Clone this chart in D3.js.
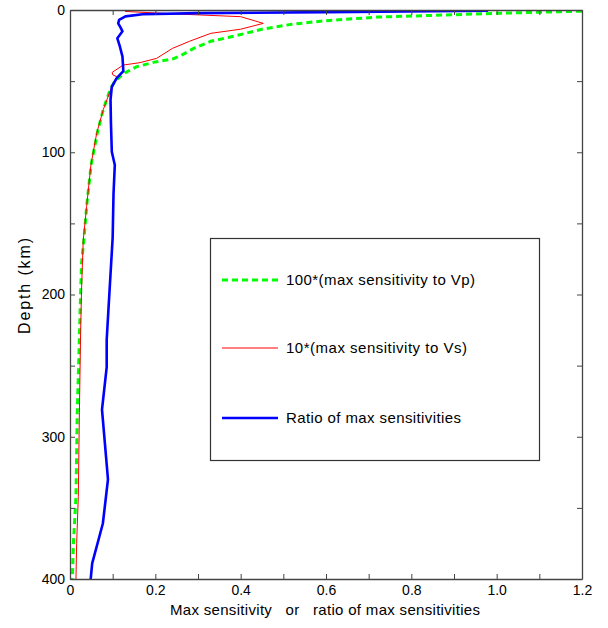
<!DOCTYPE html>
<html>
<head>
<meta charset="utf-8">
<script src="https://cdn.jsdelivr.net/npm/d3@7"></script>
<style>
  body { margin: 0; background: #fff; }
  svg text { font-family: "Liberation Sans", Arial, sans-serif; fill: #000; }
</style>
</head>
<body>
<svg id="chart" width="608" height="628"></svg>
<script>
// x values (sensitivity / ratio) and depth (km)
const vpValue = [1.2, 1.0, 0.88, 0.72, 0.6, 0.52, 0.45, 0.39, 0.33, 0.29, 0.26, 0.24, 0.2, 0.155, 0.13, 0.105, 0.094, 0.078, 0.065, 0.05, 0.04, 0.033, 0.027, 0.024, 0.022, 0.017, 0.014, 0.008, 0.0055];
const vpDepth = [0.8, 2.3, 3.5, 5, 7.5, 10, 13.5, 18, 22, 27, 32, 34.5, 36.5, 40, 44, 50, 56, 70, 85, 108, 135, 160, 178, 208, 230, 283, 342, 375, 400];

const vsValue = [0.129, 0.25, 0.40, 0.453, 0.40, 0.33, 0.28, 0.24, 0.203, 0.164, 0.125, 0.099, 0.1, 0.11, 0.1, 0.094, 0.078, 0.0625, 0.049, 0.039, 0.031, 0.027, 0.025, 0.022, 0.0195, 0.0156, 0.014];
const vsDepth = [1.0, 2.8, 4.7, 9.4, 13.5, 16.4, 22, 27, 34, 37, 38.7, 43.8, 45.5, 47, 52, 57, 70, 86.7, 109, 138, 162, 197, 225, 283, 342, 375, 400];

const ratioValue = [0.98, 0.6, 0.3, 0.17, 0.13, 0.115, 0.113, 0.118, 0.123, 0.111, 0.117, 0.123, 0.125, 0.109, 0.098, 0.095, 0.096, 0.098, 0.105, 0.102, 0.100, 0.090, 0.086, 0.086, 0.075, 0.089, 0.077, 0.052, 0.0485];
const ratioDepth = [0.5, 1.5, 2.2, 3, 4.5, 7, 9.4, 12, 15, 19.9, 25.8, 32.8, 43, 48, 54, 63, 80, 99.6, 109, 129, 160, 211, 232, 251, 281, 330, 361, 389, 400];

const xTicks = [0, 0.1, 0.2, 0.3, 0.4, 0.5, 0.6, 0.7, 0.8, 0.9, 1.0, 1.1, 1.2];
const yTicks = [0, 50, 100, 150, 200, 250, 300, 350, 400];

const legendLabels = ['100*(max sensitivity to Vp)', '10*(max sensitivity to Vs)', 'Ratio of max sensitivities'];

// layout
const plotLeft = 70, plotRight = 582, plotTop = 10, plotBottom = 579;
const svg = d3.select('#chart');

const xScale = d3.scaleLinear().domain([0, 1.2]).range([plotLeft, plotRight]);
const yScale = d3.scaleLinear().domain([0, 400]).range([plotTop, plotBottom]);

const fmtX = (v) => {
    let k = Math.round(v * 10);
    if (k % 2 !== 0) return '';
    return k === 0 ? '0' : d3.format('.1f')(v);
};
const fmtY = (v) => (v % 100 === 0 ? String(v) : '');

// curves, clipped to the box
svg.append('clipPath').attr('id', 'plotClip')
    .append('rect')
    .attr('x', plotLeft).attr('y', plotTop)
    .attr('width', plotRight - plotLeft).attr('height', plotBottom - plotTop);

const line = d3.line().x(d => xScale(d[0])).y(d => yScale(d[1]));
const plot = svg.append('g').attr('clip-path', 'url(#plotClip)');

plot.append('path')
    .datum(d3.zip(vpValue, vpDepth))
    .attr('d', line)
    .style('fill', 'none').style('stroke', '#00ff00')
    .style('stroke-width', 3).style('stroke-dasharray', '6,4');

plot.append('path')
    .datum(d3.zip(vsValue, vsDepth))
    .attr('d', line)
    .style('fill', 'none').style('stroke', '#ff0000')
    .style('stroke-width', 1);

plot.append('path')
    .datum(d3.zip(ratioValue, ratioDepth))
    .attr('d', line)
    .style('fill', 'none').style('stroke', '#0000ff')
    .style('stroke-width', 2.6).style('stroke-linejoin', 'round');

// axes (ticks point inward, box on all sides)
const axisColor = '#444';
function styleAxis(g) {
    g.selectAll('.domain').attr('stroke', axisColor).attr('stroke-width', 1.3);
    g.selectAll('.tick line').attr('stroke', axisColor);
    g.selectAll('.tick text').style('font-size', '14px').attr('fill', '#000');
}

svg.append('g')
    .attr('transform', `translate(0, ${plotBottom})`)
    .call(d3.axisBottom(xScale).tickValues(xTicks).tickFormat(fmtX).tickSize(-5).tickSizeOuter(0).tickPadding(6))
    .call(styleAxis);

svg.append('g')
    .attr('transform', `translate(0, ${plotTop})`)
    .call(d3.axisTop(xScale).tickValues(xTicks).tickFormat('').tickSize(-5).tickSizeOuter(0))
    .call(styleAxis);

svg.append('g')
    .attr('transform', `translate(${plotLeft}, 0)`)
    .call(d3.axisLeft(yScale).tickValues(yTicks).tickFormat(fmtY).tickSize(-5).tickSizeOuter(0).tickPadding(5))
    .call(styleAxis);

svg.append('g')
    .attr('transform', `translate(${plotRight}, 0)`)
    .call(d3.axisRight(yScale).tickValues(yTicks).tickFormat('').tickSize(-5).tickSizeOuter(0))
    .call(styleAxis);

// axis titles (the original font is set wide, so stretch the spacing)
svg.append('text')
    .attr('x', 325).attr('y', 615)
    .attr('text-anchor', 'middle')
    .attr('textLength', 310).attr('lengthAdjust', 'spacing')
    .style('font-size', '15px')
    .style('white-space', 'pre')
    .text('Max sensitivity   or   ratio of max sensitivities');

svg.append('text')
    .attr('transform', 'translate(30, 286) rotate(-90)')
    .attr('text-anchor', 'middle')
    .attr('textLength', 96).attr('lengthAdjust', 'spacing')
    .style('font-size', '16px')
    .text('Depth (km)');

// legend
const legend = svg.append('g');
legend.append('rect')
    .attr('x', 210.5).attr('y', 238.5)
    .attr('width', 329).attr('height', 222)
    .style('fill', '#fff').style('stroke', '#333').style('stroke-width', 1.2);

const legendStyles = [
    { color: '#00ff00', width: 3, dash: '6,4', len: 189 },
    { color: '#ff0000', width: 1, dash: null, len: 181 },
    { color: '#0000ff', width: 2.6, dash: null, len: 175 },
];
const legendY = [280, 348, 418];

legendLabels.forEach((label, i) => {
    legend.append('line')
        .attr('x1', 222).attr('x2', 278)
        .attr('y1', legendY[i]).attr('y2', legendY[i])
        .style('stroke', legendStyles[i].color)
        .style('stroke-width', legendStyles[i].width)
        .style('stroke-dasharray', legendStyles[i].dash);
    legend.append('text')
        .attr('x', 286).attr('y', legendY[i])
        .attr('dy', '0.35em')
        .attr('textLength', legendStyles[i].len).attr('lengthAdjust', 'spacing')
        .style('font-size', '15px')
        .text(label);
});
</script>
</body>
</html>
